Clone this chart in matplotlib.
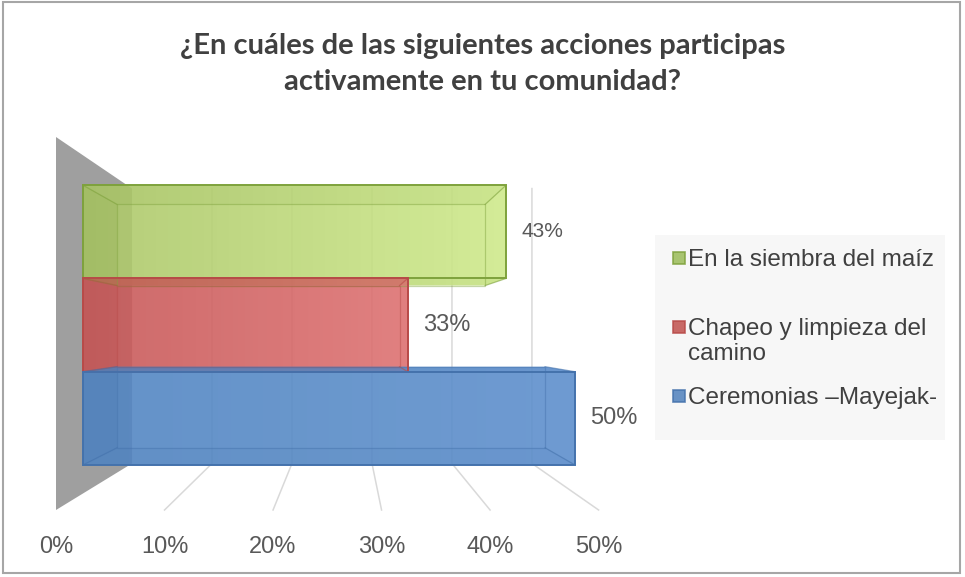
import matplotlib
matplotlib.use('Agg')
import matplotlib.pyplot as plt
import numpy as np
from matplotlib.patches import Polygon, Rectangle
from matplotlib.colors import to_rgb

# ---------------- data ----------------
categories = ['Ceremonias –Mayejak-', 'Chapeo y limpieza del\ncamino', 'En la siembra del maíz']
values = [0.50, 0.33, 0.43]
value_labels = ['50%', '33%', '43%']
tick_values = [0, 0.1, 0.2, 0.3, 0.4, 0.5]
tick_labels = ['0%', '10%', '20%', '30%', '40%', '50%']
title = '¿En cuáles de las siguientes acciones participas\nactivamente en tu comunidad?'

# ---------------- style ----------------
face_left = ['#5386c2', '#c75858', '#acc769']
face_right = ['#5e90cd', '#de7272', '#cfea8c']
edge_colors = ['#4472ac', '#b84a48', '#7ea23c']
legend_colors = ['#4f81bd', '#c0504d', '#9bbb59']
label_sizes = [17, 17, 15]

# perspective view (data units)
VP = (0.2664, 0.915)
S_BAR_FRONT, S_BAR_BACK, S_WALL = 0.907, 0.789, 0.737
Y_FLOOR, Y_TOP = -0.806, 2.821


def proj(x, y, s):
    return (VP[0] + (x - VP[0]) * s, VP[1] + (y - VP[1]) * s)


def hull(points):
    pts = sorted(set(points))
    def cross(o, a, b):
        return (a[0]-o[0])*(b[1]-o[1]) - (a[1]-o[1])*(b[0]-o[0])
    lower, upper = [], []
    for p in pts:
        while len(lower) >= 2 and cross(lower[-2], lower[-1], p) <= 0:
            lower.pop()
        lower.append(p)
    for p in reversed(pts):
        while len(upper) >= 2 and cross(upper[-2], upper[-1], p) <= 0:
            upper.pop()
        upper.append(p)
    return lower[:-1] + upper[:-1]


W, H = 965, 577
fig = plt.figure(figsize=(W/100, H/100), dpi=100)
fig.patch.set_facecolor('white')


def fx(px):
    return px / W


def fy(py):
    return 1 - py / H


ax = fig.add_axes([fx(56), fy(510), fx(598.6) - fx(56), fy(137) - fy(510)])
ax.set_facecolor('none')
for sp in ax.spines.values():
    sp.set_visible(False)
ax.set_yticks([])

grid_c = '#d9d9d9'
# floor and back wall gridlines
for v in tick_values[1:]:
    a = proj(v, Y_FLOOR, 1.0)
    b = proj(v, Y_FLOOR, S_WALL)
    c = proj(v, Y_TOP, S_WALL)
    ax.plot([a[0], b[0], c[0]], [a[1], b[1], c[1]], color=grid_c, lw=1.1, zorder=1, clip_on=False)

# side wall
wall = [proj(0, Y_FLOOR, 1.0), proj(0, Y_TOP, 1.0), proj(0, Y_TOP, S_WALL), proj(0, Y_FLOOR, S_WALL)]
ax.add_patch(Polygon(wall, closed=True, fc='#9f9f9f', ec='none', zorder=2))

# bars
for i in [2, 1, 0]:
    v = values[i]
    y0, y1 = i - 0.5, i + 0.5
    F = [proj(0, y0, S_BAR_FRONT), proj(v, y0, S_BAR_FRONT), proj(v, y1, S_BAR_FRONT), proj(0, y1, S_BAR_FRONT)]
    B = [proj(0, y0, S_BAR_BACK), proj(v, y0, S_BAR_BACK), proj(v, y1, S_BAR_BACK), proj(0, y1, S_BAR_BACK)]
    hp = hull(F + B)
    xs = [p[0] for p in hp]
    ys = [p[1] for p in hp]
    cl = np.array(to_rgb(face_left[i]))
    cr = np.array(to_rgb(face_right[i]))
    t = np.linspace(0, 1, 256)[None, :, None]
    img = cl[None, None, :] * (1 - t) + cr[None, None, :] * t
    im = ax.imshow(img, extent=(min(xs), max(xs), min(ys), max(ys)), aspect='auto',
                   interpolation='bilinear', alpha=0.9, zorder=3)
    clip = Polygon(hp, closed=True, transform=ax.transData)
    im.set_clip_path(clip)
    ec = edge_colors[i]
    # left end face shading
    left_face = [F[0], F[3], B[3], B[0]]
    ax.add_patch(Polygon(left_face, closed=True, fc=ec, ec='none', alpha=0.15, zorder=4))
    # top / bottom strips
    ax.add_patch(Polygon([F[3], F[2], B[2], B[3]], closed=True, fc=ec, ec='none', alpha=0.08, zorder=4))
    ax.add_patch(Polygon([F[0], F[1], B[1], B[0]], closed=True, fc=ec, ec='none', alpha=0.08, zorder=4))
    # back edges and connectors
    ax.add_patch(Polygon(B, closed=True, fill=False, ec=ec, lw=0.9, alpha=0.45, zorder=5))
    for k in range(4):
        ax.plot([F[k][0], B[k][0]], [F[k][1], B[k][1]], color=ec, lw=0.9, alpha=0.6, zorder=5)
    # front face outline
    ax.add_patch(Polygon(F, closed=True, fill=False, ec=ec, lw=1.4, zorder=6))
    # value label
    lx, ly = proj(v, i, S_BAR_FRONT)
    ax.annotate(value_labels[i], xy=(lx, ly), xytext=(11, 0), textcoords='offset points',
                ha='left', va='center', fontsize=label_sizes[i], color='#595959',
                family='Liberation Sans', annotation_clip=False, zorder=7)

ax.set_xlim(0, 0.5)
ax.set_ylim(Y_FLOOR, Y_TOP)
ax.set_xticks(tick_values)
ax.set_xticklabels(tick_labels, fontsize=17, color='#595959', family='Liberation Sans')
ax.tick_params(axis='x', length=0, pad=19)

# title
fig.text(0.5, fy(64), title, ha='center', va='center', fontsize=21, fontweight='bold',
         color='#404040', family='Lato', linespacing=1.45)

# legend (manual)
fig.add_artist(Rectangle((fx(655), fy(440)), fx(945) - fx(655), fy(235) - fy(440),
                         transform=fig.transFigure, fc='#f7f7f7', ec='none', zorder=0))
leg_y = {2: 258, 1: 327, 0: 396}
for i in [2, 1, 0]:
    yy = leg_y[i]
    fig.add_artist(Rectangle((fx(673), fy(yy + 6)), fx(685) - fx(673), fy(yy - 6) - fy(yy + 6),
                             transform=fig.transFigure, fc=legend_colors[i], ec=edge_colors[i], lw=1.2,
                             alpha=0.85))
    fig.text(fx(688), fy(yy - 9), categories[i], ha='left', va='top', fontsize=17.5,
             color='#404040', family='Liberation Sans', linespacing=1.17)

# border
fig.add_artist(Rectangle((fx(3), fy(573)), fx(960) - fx(3), fy(2) - fy(573),
                         transform=fig.transFigure, fill=False, ec='#a6a6a6', lw=1.5))

fig.savefig('out.png', dpi=100)
